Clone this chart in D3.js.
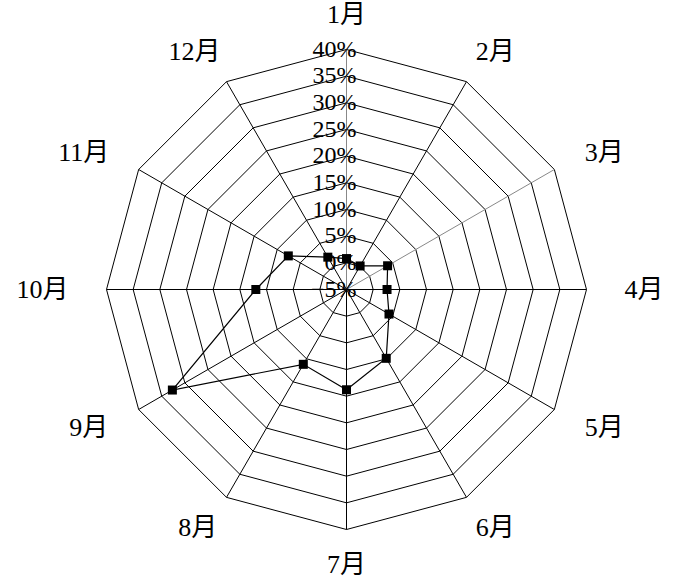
<!DOCTYPE html>
<html>
<head>
<meta charset="utf-8">
<script src="https://cdn.jsdelivr.net/npm/d3@7"></script>
<style>
  html, body { margin: 0; padding: 0; background: #fff; }
  svg { display: block; }
  text { font-family: "Liberation Serif", "Times New Roman", "Noto Sans CJK SC", serif; fill: #000; }
</style>
</head>
<body>
<script>
const months = ["1月","2月","3月","4月","5月","6月","7月","8月","9月","10月","11月","12月"];
const values = [0.8, 0.1, 3.9, 2.6, 4.2, 9.9, 13.8, 11.2, 32.7, 12.0, 7.6, 2.0];
const tickValues = [-5, 0, 5, 10, 15, 20, 25, 30, 35, 40];
const tickLabels = ["−5%","0%","5%","10%","15%","20%","25%","30%","35%","40%"];
const graySpokes = ["1月","3月"];

const W = 700, H = 578;
const cx = 346.5, cy = 289.5, R = 240;

const svg = d3.select("body").append("svg").attr("width", W).attr("height", H);
const g = svg.append("g").attr("transform", `translate(${cx},${cy})`);

const r = d3.scaleLinear().domain([-5, 40]).range([0, R]);
const ang = d3.scalePoint().domain(months).range([0, 2 * Math.PI * (11 / 12)]);
const px = (m, v) => r(v) * Math.sin(ang(m));
const py = (m, v) => -r(v) * Math.cos(ang(m));

// rings
const ringLine = d3.line().x(d => d[0]).y(d => d[1]).curve(d3.curveLinearClosed);
g.selectAll("path.ring").data(tickValues.slice(1)).enter().append("path")
  .attr("class", "ring")
  .attr("d", t => ringLine(months.map(m => [px(m, t), py(m, t)])))
  .attr("fill", "none").attr("stroke", "#000").attr("stroke-width", 1);

// spokes
g.selectAll("line.spoke").data(months).enter().append("line")
  .attr("class", "spoke")
  .attr("x1", 0).attr("y1", 0)
  .attr("x2", m => px(m, 40)).attr("y2", m => py(m, 40))
  .attr("stroke", m => graySpokes.includes(m) ? "#888" : "#000")
  .attr("stroke-width", 1);

// data line
const dataLine = d3.line().x(d => px(d.m, d.v)).y(d => py(d.m, d.v)).curve(d3.curveLinearClosed);
const pts = months.map((m, i) => ({ m, v: values[i] }));
g.append("path").attr("d", dataLine(pts))
  .attr("fill", "none").attr("stroke", "#000").attr("stroke-width", 1.2);

// markers
const ms = 9;
g.selectAll("rect.mk").data(pts).enter().append("rect")
  .attr("class", "mk")
  .attr("x", d => px(d.m, d.v) - ms / 2).attr("y", d => py(d.m, d.v) - ms / 2)
  .attr("width", ms).attr("height", ms).attr("fill", "#000");

// tick labels
g.selectAll("text.tick").data(tickValues).enter().append("text")
  .attr("class", "tick")
  .attr("x", 10)
  .attr("y", t => -r(t))
  .attr("dy", "0.3em")
  .attr("text-anchor", "end")
  .attr("font-size", 24)
  .text((t, i) => tickLabels[i]);

// month labels
const lab = g.selectAll("text.month").data(months).enter().append("text")
  .attr("class", "month")
  .attr("font-size", 26)
  .attr("text-anchor", "middle")
  .attr("dominant-baseline", "central")
  .text(m => m);
lab.each(function(m) {
  const w = this.getBBox().width;
  const a = ang(m);
  d3.select(this)
    .attr("x", (R + 38 + w / 2) * Math.sin(a))
    .attr("y", -(R + 35) * Math.cos(a));
});
</script>
</body>
</html>
